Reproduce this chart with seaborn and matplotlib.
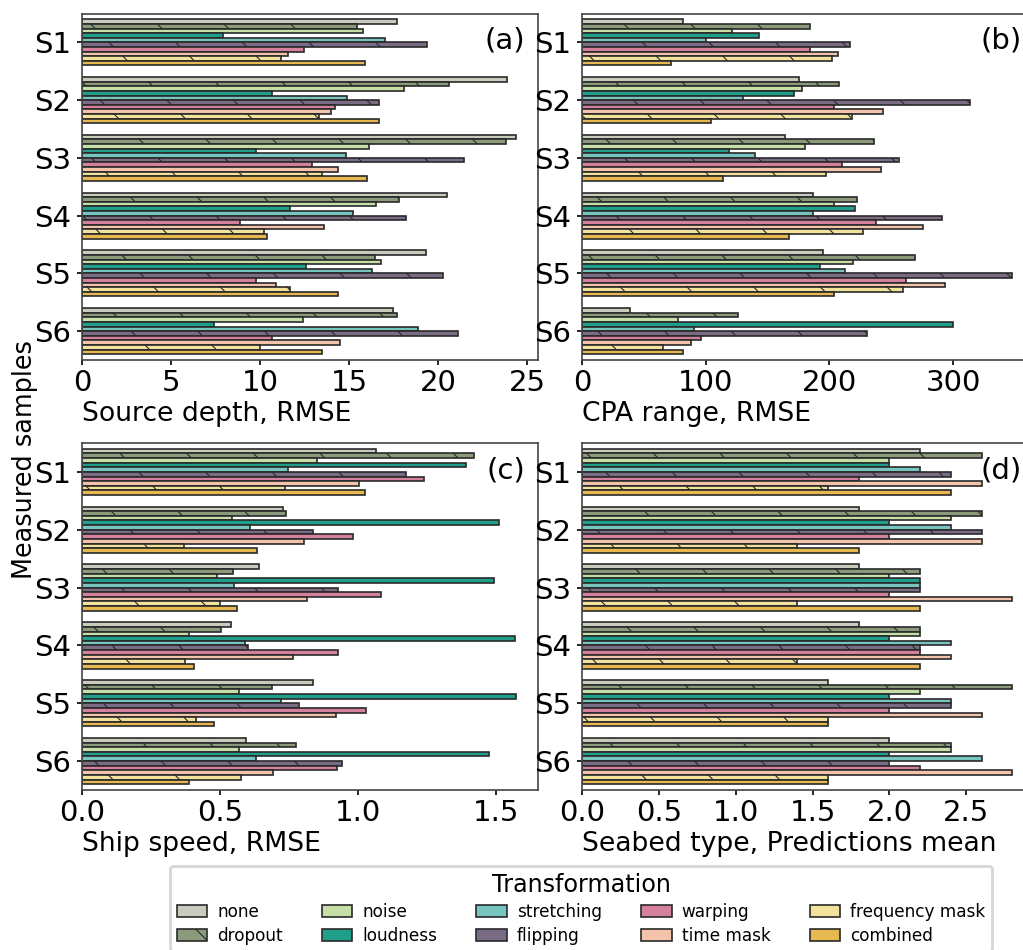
import numpy as np
import pandas as pd
import matplotlib
matplotlib.use("Agg")
import matplotlib.pyplot as plt
from matplotlib.patches import Patch
from matplotlib.ticker import MultipleLocator
import seaborn as sns

samples = ["S1", "S2", "S3", "S4", "S5", "S6"]
transformations = ["none", "dropout", "noise", "loudness", "stretching",
                   "flipping", "warping", "time mask", "frequency mask", "combined"]
hatched = ["dropout", "flipping", "frequency mask"]
colors = ["#c9cbbd", "#8a9a7b", "#c5dfa6", "#1f9e89", "#76c5bf",
          "#7a6c84", "#d5809c", "#f3c3ab", "#f2e29b", "#e6b84f"]

# rows = samples S1..S6, columns = transformations (order above)
source_depth = [
    [17.7, 15.45, 15.8, 7.9, 17.05, 19.4, 12.5, 11.6, 11.2, 15.9],
    [23.9, 20.6, 18.1, 10.7, 14.9, 16.7, 14.2, 14.0, 13.3, 16.7],
    [24.4, 23.8, 16.15, 9.8, 14.85, 21.45, 12.9, 14.4, 13.5, 16.0],
    [20.5, 17.8, 16.5, 11.7, 15.2, 18.2, 8.9, 13.6, 10.2, 10.4],
    [19.35, 16.45, 16.8, 12.6, 16.3, 20.3, 9.8, 10.9, 11.7, 14.4],
    [17.5, 17.7, 12.4, 7.4, 18.9, 21.1, 10.7, 14.5, 10.0, 13.5],
]
cpa_range = [
    [82, 184, 121, 143, 100, 217, 184, 207, 202, 72],
    [175.5, 207.5, 177.7, 171, 130, 314, 203.5, 243, 218, 104],
    [164, 236, 180, 118.7, 139.7, 256, 210, 241.7, 197, 114],
    [187, 222, 203.5, 220.7, 186.5, 291, 238, 276, 227, 167],
    [195, 269, 219, 192.5, 213, 348, 262, 293.7, 259.5, 203.5],
    [38.5, 126.5, 77.5, 300, 90.4, 230, 96, 88, 65.4, 81.6],
]
ship_speed = [
    [1.066, 1.422, 0.853, 1.393, 0.747, 1.173, 1.24, 1.005, 0.734, 1.024],
    [0.73, 0.738, 0.544, 1.511, 0.61, 0.837, 0.983, 0.805, 0.37, 0.636],
    [0.643, 0.548, 0.489, 1.494, 0.552, 0.928, 1.084, 0.814, 0.499, 0.56],
    [0.541, 0.505, 0.389, 1.568, 0.591, 0.602, 0.927, 0.764, 0.375, 0.407],
    [0.837, 0.688, 0.568, 1.574, 0.72, 0.787, 1.03, 0.922, 0.412, 0.477],
    [0.595, 0.775, 0.568, 1.475, 0.631, 0.942, 0.924, 0.692, 0.575, 0.387],
]
seabed_type = [
    [2.2, 2.6, 2.0, 2.0, 2.2, 2.4, 1.8, 2.6, 1.6, 2.4],
    [1.8, 2.6, 2.4, 2.0, 2.4, 2.6, 2.0, 2.6, 1.4, 1.8],
    [1.8, 2.2, 2.0, 2.2, 2.2, 2.2, 2.0, 2.8, 1.4, 2.2],
    [1.8, 2.2, 2.2, 2.0, 2.4, 2.2, 2.2, 2.4, 1.4, 2.2],
    [1.6, 2.8, 2.2, 2.0, 2.4, 2.4, 2.0, 2.6, 1.6, 1.6],
    [2.0, 2.4, 2.4, 2.0, 2.6, 2.0, 2.2, 2.8, 1.6, 1.6],
]
panel_labels = ["(a)", "(b)", "(c)", "(d)"]
x_labels = ["Source depth, RMSE", "CPA range, RMSE", "Ship speed, RMSE",
            "Seabed type, Predictions mean"]
x_steps = [5, 100, 0.5, 0.5]

plt.rcParams["font.family"] = ["DejaVu Sans"]
plt.rcParams["hatch.linewidth"] = 0.4
plt.rcParams["font.size"] = 10

W, H, DPI = 1023, 950, 200
fig = plt.figure(figsize=(W / DPI, H / DPI), dpi=DPI)

def rect(x0, x1, y0, y1):
    return [x0 / W, 1 - y1 / H, (x1 - x0) / W, (y1 - y0) / H]

rects = [rect(82, 538, 13.5, 360), rect(582, 1034, 13.5, 360),
         rect(82, 538, 443, 790), rect(582, 1034, 443, 790)]
datasets = [source_depth, cpa_range, ship_speed, seabed_type]
palette = dict(zip(transformations, colors))

for r, data, lab, xl, step in zip(rects, datasets, panel_labels, x_labels, x_steps):
    ax = fig.add_axes(r)
    df = pd.DataFrame(data, index=samples, columns=transformations)
    long = df.reset_index().melt(id_vars="index", var_name="Transformation",
                                 value_name="value").rename(columns={"index": "sample"})
    sns.barplot(data=long, y="sample", x="value", hue="Transformation",
                hue_order=transformations, order=samples, palette=palette,
                orient="h", saturation=1, edgecolor="#2a2a2a", linewidth=0.6,
                legend=False, ax=ax)
    for cont, t in zip(ax.containers, transformations):
        if t in hatched:
            for p in cont:
                p.set_hatch("\\")
    ax.xaxis.set_major_locator(MultipleLocator(step))
    ax.set_ylabel("")
    ax.set_xlabel(xl, loc="left", fontsize=9.6, labelpad=1.5)
    ax.tick_params(labelsize=10.5, width=0.6, length=1.8, pad=2.0)
    ax.tick_params(axis="x", pad=1.5)
    for s in ax.spines.values():
        s.set_linewidth(0.6)
        s.set_color("#444444")
    ax.text(0.972, 0.962, lab, transform=ax.transAxes, ha="right", va="top",
            fontsize=10.5)

fig.text(25 / W, 1 - 460 / H, "Measured samples", rotation=90, ha="center",
         va="center", fontsize=9.2)

handles = [Patch(facecolor=c, edgecolor="#2a2a2a", linewidth=0.6,
                 hatch="\\" if t in hatched else None, label=t)
           for t, c in zip(transformations, colors)]
fig.legend(handles=handles, title="Transformation", ncol=5, loc="upper center",
           bbox_to_anchor=(581 / W, 1 - 866 / H), borderaxespad=0,
           fontsize=6.1, title_fontsize=8.6, frameon=True,
           columnspacing=2.3, handletextpad=0.6, handlelength=1.8,
           handleheight=0.75, labelspacing=0.35)

fig.savefig("out.png", dpi=DPI)
